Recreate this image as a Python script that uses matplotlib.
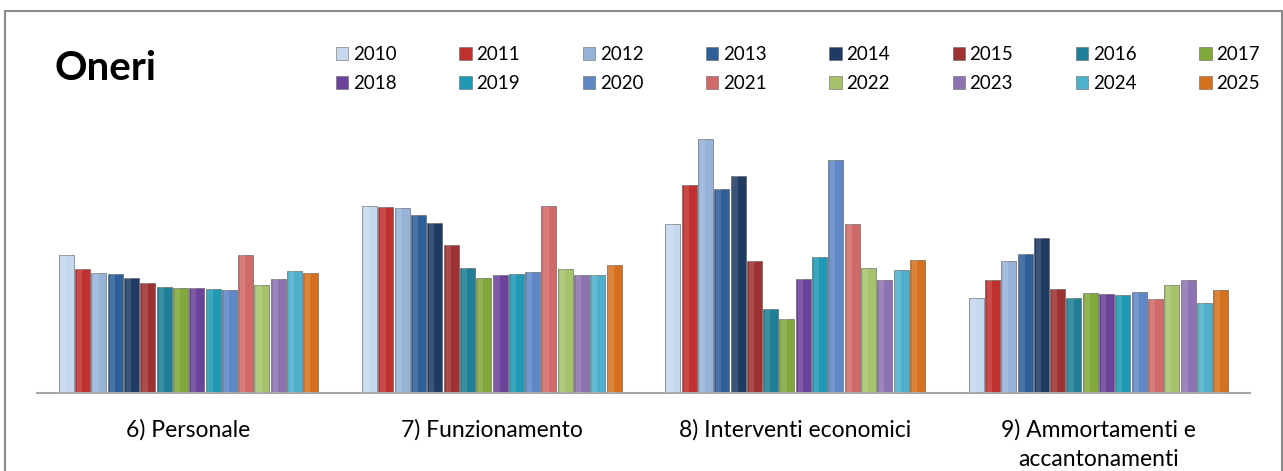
import numpy as np
import matplotlib
matplotlib.use("Agg")
import matplotlib.pyplot as plt
from matplotlib.patches import Patch, Rectangle

plt.rcParams.update({
    "font.family": ["Lato", "DejaVu Sans"],
    "axes.unicode_minus": False,
})

categories = ["6) Personale", "7) Funzionamento", "8) Interventi economici",
              "9) Ammortamenti e\naccantonamenti"]
years = [str(y) for y in range(2010, 2026)]

# one row per category, one value per year (arbitrary units)
personale = [138, 124, 120, 119, 115, 110, 106, 105, 105, 104, 103, 138, 108, 114, 122, 120]
funzionamento = [187, 186, 185, 178, 170, 148, 125, 115, 118, 119, 121, 187, 124, 118, 118, 128]
interventi = [169, 208, 254, 204, 217, 132, 84, 74, 114, 136, 233, 169, 125, 113, 123, 133]
ammortamenti = [95, 113, 132, 139, 155, 104, 95, 100, 99, 98, 101, 94, 108, 113, 90, 103]

colors = ["#c6d8ee", "#c0302f", "#97b3d8", "#2f5f98", "#1f3b63", "#9e3232",
          "#1f7f96", "#80a83a", "#6b4299", "#2099b5", "#5f87c5", "#d06a69",
          "#a6c36c", "#8d73b2", "#4fb0cc", "#d5711d"]

values = np.array([personale, funzionamento, interventi, ammortamenti])

W, H = 1283, 471
fig = plt.figure(figsize=(W / 100, H / 100), dpi=100)
ax = fig.add_axes([37 / W, 78 / H, 1213 / W, 263 / H])

n = len(years)
span = 0.86
pitch = span / n
bw = pitch * 0.92
x = np.arange(len(categories))
for j in range(n):
    xs = x - span / 2 + pitch * (j + 0.5)
    ax.bar(xs, values[:, j], width=bw, color=colors[j],
           edgecolor="#555555", linewidth=0.4, zorder=2)
    # soft highlight on the left half of each bar
    ax.bar(xs - bw * 0.2, values[:, j], width=bw * 0.35, color="white",
           alpha=0.13, linewidth=0, zorder=3)

ax.set_xlim(-0.5, len(categories) - 0.5)
ax.set_ylim(0, 263)
for s in ["top", "right", "left"]:
    ax.spines[s].set_visible(False)
ax.spines["bottom"].set_color("#a6a6a6")
ax.spines["bottom"].set_linewidth(1.5)
ax.set_yticks([])
ax.set_xticks(x)
ax.set_xticklabels(categories, linespacing=1.45, va="top")
for t in ax.get_xticklabels():
    t.set_fontsize(16.5)
ax.tick_params(axis="x", length=0, pad=19)

# title
fig.text(55 / W, 1 - 68 / H, "Oneri", fontsize=29, fontweight="bold",
         ha="left", va="center")

# legend, row-major like the original
handles = [Patch(facecolor=c, edgecolor="#666666", linewidth=0.4, label=y)
           for c, y in zip(colors, years)]
order = []
for col in range(8):
    order += [col, col + 8]
leg = fig.legend([handles[i] for i in order], [years[i] for i in order],
                 ncol=8, loc="center left", bbox_to_anchor=(336 / W, 1 - 69 / H),
                 frameon=False, fontsize=13.5, handlelength=0.65, handleheight=0.65,
                 handletextpad=0.25, columnspacing=3.35, labelspacing=0.65,
                 borderaxespad=0, borderpad=0)

# outer chart border
fig.add_artist(Rectangle((5 / W, -0.05), 1276.5 / W, 1.05 - 11 / H,
                         transform=fig.transFigure, fill=False,
                         edgecolor="#8c8c8c", linewidth=1.5))

fig.savefig("out.png", dpi=100)
